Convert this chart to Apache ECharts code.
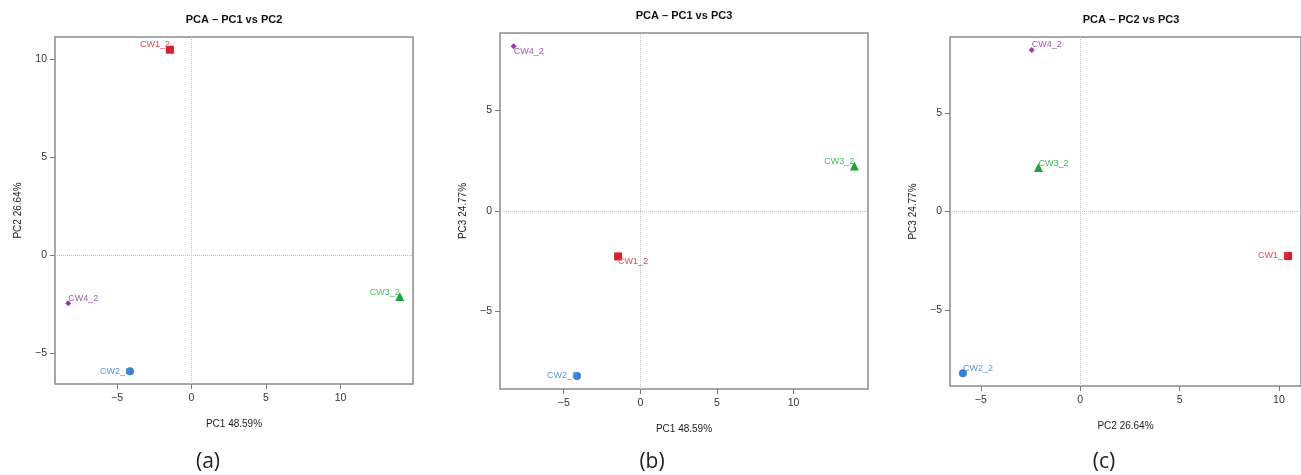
<!DOCTYPE html>
<html>
<head>
<meta charset="utf-8">
<script src="https://cdn.jsdelivr.net/npm/echarts@6/dist/echarts.min.js"></script>
<style>
html,body{margin:0;padding:0;background:#fff;}
#c{width:1301px;height:475px;}
</style>
</head>
<body>
<div id="c"></div>
<script>
// ---- data ----
const samples = ['CW1_2', 'CW2_2', 'CW3_2', 'CW4_2'];
const pc1 = [-1.45, -4.13, 13.97, -8.27];
const pc2 = [10.46, -5.90, -2.10, -2.44];
const pc3 = [-2.26, -8.21, 2.24, 8.20];
const pc1Lim = [-9.16, 14.86];
const pc2Lim = [-6.55, 11.11];
const pc3Lim = [-8.86, 8.86];
const pc1Ticks = [-5, 0, 5, 10];
const pc2Ticks = [-5, 0, 5, 10];
const pc3Ticks = [-5, 0, 5];
const titles = ['PCA \u2013 PC1 vs PC2', 'PCA \u2013 PC1 vs PC3', 'PCA \u2013 PC2 vs PC3'];
const xNames = ['PC1 48.59%', 'PC1 48.59%', 'PC2 26.64%'];
const yNames = ['PC2 26.64%', 'PC3 24.77%', 'PC3 24.77%'];
const panelTags = ['(a)', '(b)', '(c)'];

// ---- styles ----
const symbols = ['rect', 'circle', 'triangle', 'diamond'];
const symSizes = [8, 8, 9, 6];
const colors = ['#d81f27', '#3c7ed0', '#1fa33a', '#973aa3'];
const labelColors = ['#df4a55', '#5a95d8', '#4cb75a', '#a455b3'];
// label placement per panel per sample: [align, dy]
const labelPlace = [
  [['right', -5], ['right', 0], ['right', -4], ['left', -5]],
  [['left', 5], ['right', 0], ['right', -4], ['left', 5]],
  [['right', 0], ['left', -5], ['left', -4], ['left', -5]]
];
const grids = [
  {left: 55, top: 37, width: 358, height: 347},
  {left: 500, top: 33, width: 368, height: 356},
  {left: 950, top: 37, width: 362, height: 349}
];
const panels = [
  {x: pc1, y: pc2, xl: pc1Lim, yl: pc2Lim, xt: pc1Ticks, yt: pc2Ticks},
  {x: pc1, y: pc3, xl: pc1Lim, yl: pc3Lim, xt: pc1Ticks, yt: pc3Ticks},
  {x: pc2, y: pc3, xl: pc2Lim, yl: pc3Lim, xt: pc2Ticks, yt: pc3Ticks}
];
const FONT = '"Liberation Sans", Arial, sans-serif';
const fmt = v => String(v).replace('-', '\u2212');

function axis(i, lim, ticks, name, isX) {
  return {
    type: 'value', gridIndex: i, min: lim[0], max: lim[1],
    minInterval: 5, maxInterval: 5,
    position: isX ? 'bottom' : 'left',
    name: name, nameLocation: 'middle', nameGap: isX ? 35 : 32,
    nameTextStyle: {fontFamily: FONT, fontSize: 10, color: '#222'},
    axisLine: {show: false, onZero: false},
    axisTick: {show: true, inside: false, length: 5, customValues: ticks,
      lineStyle: {color: '#777', width: 1}},
    axisLabel: {show: true, customValues: ticks, margin: isX ? 9 : 8, formatter: fmt,
      fontFamily: FONT, fontSize: 10.5, color: '#333'},
    splitLine: {show: false}
  };
}

const xAxis = [], yAxis = [], series = [], graphic = [];
panels.forEach((p, i) => {
  xAxis.push(axis(i, p.xl, p.xt, xNames[i], true));
  yAxis.push(axis(i, p.yl, p.yt, yNames[i], false));
  samples.forEach((s, k) => {
    const pl = labelPlace[i][k];
    const ser = {
      type: 'scatter', xAxisIndex: i, yAxisIndex: i, name: s,
      symbol: symbols[k], symbolSize: symSizes[k],
      itemStyle: {color: colors[k], opacity: 1},
      data: [[p.x[k], p.y[k]]],
      label: {show: true, formatter: s, position: 'inside', align: pl[0],
        verticalAlign: 'middle', offset: [0, pl[1]],
        fontFamily: FONT, fontSize: 9, color: labelColors[k]},
      z: 3
    };
    if (k === 0) {
      ser.markLine = {
        silent: true, symbol: ['none', 'none'], label: {show: false},
        lineStyle: {type: 'dotted', color: '#c4c4c4', width: 1},
        data: [{xAxis: 0}, {yAxis: 0}], z: 1
      };
    }
    series.push(ser);
  });
  const g = grids[i];
  const cx = g.left + g.width / 2;
  graphic.push({type: 'text', x: i === 2 ? 1131 : cx, y: g.top - 17,
    style: {text: titles[i], fontFamily: FONT, fontSize: 11, fontWeight: 'bold',
      fill: '#111', textAlign: 'center', textVerticalAlign: 'middle'}});
});
const tagX = [208, 652, 1104];
panelTags.forEach((t, i) => {
  graphic.push({type: 'text', x: tagX[i], y: 462,
    style: {text: t, fontFamily: '"Open Sans", sans-serif', fontSize: 21,
      fill: '#222', textAlign: 'center', textVerticalAlign: 'middle'}});
});

const chart = echarts.init(document.getElementById('c'), null, {renderer: 'canvas'});
chart.setOption({
  animation: false,
  backgroundColor: '#fff',
  grid: grids.map(g => Object.assign({show: true, borderColor: '#8a8a8a', borderWidth: 1.5,
    backgroundColor: 'transparent', containLabel: false}, g)),
  xAxis: xAxis, yAxis: yAxis, series: series, graphic: graphic
});
</script>
</body>
</html>
